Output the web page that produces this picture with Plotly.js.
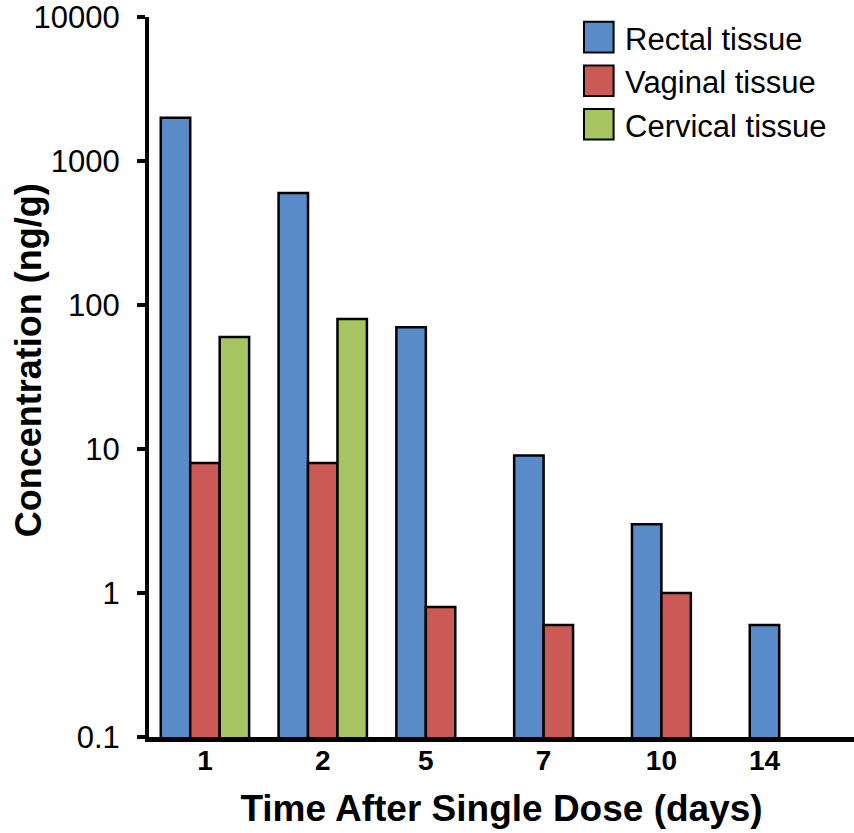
<!DOCTYPE html>
<html>
<head>
<meta charset="utf-8">
<script src="https://cdn.plot.ly/plotly-3.0.1.min.js"></script>
<style>html,body{margin:0;padding:0;background:#fff;}#chart{width:854px;height:833px;}</style>
</head>
<body>
<div id="chart"></div>
<script>
// ---- data ----
const days = ['1', '2', '5', '7', '10', '14'];
const rectal = [2000, 600, 70, 9, 3, 0.6];
const vaginal = [8, 8, 0.8, 0.6, 1, null];
const cervical = [60, 80, null, null, null, null];
const seriesNames = ['Rectal tissue', 'Vaginal tissue', 'Cervical tissue'];
const seriesColors = ['#588BC8', '#CB5A57', '#A6C462'];
const yTickVals = [0.1, 1, 10, 100, 1000, 10000];
const yTickText = ['0.1', '1', '10', '100', '1000', '10000'];
const xTitle = 'Time After Single Dose (days)';
const yTitle = 'Concentration (ng/g)';

// ---- build ----
const FONT = 'Liberation Sans, Arial, sans-serif';
const bargap = 0.25;
const series = [rectal, vaginal, cervical];
const nS = series.length;
const slotW = (1 - bargap) / nS;
const xIdx = days.map((d, i) => i);

// tick label centred under the bars that are present in each group
const tickPos = days.map((d, i) => {
  const offs = [];
  series.forEach((s, k) => { if (s[i] !== null) offs.push((k - (nS - 1) / 2) * slotW); });
  return i + offs.reduce((a, b) => a + b, 0) / offs.length;
});

const traces = series.map((s, k) => ({
  type: 'bar',
  name: seriesNames[k],
  x: xIdx,
  y: s,
  marker: { color: seriesColors[k], line: { color: '#000', width: 2.5 } },
  showlegend: false,
  hoverinfo: 'name+y'
}));

// custom legend (large square swatches)
const shapes = [];
const annotations = [];
seriesNames.forEach((n, k) => {
  const yc = 0.972 - k * 0.0605;
  shapes.push({
    type: 'rect', xref: 'paper', yref: 'paper',
    x0: 0.617, x1: 0.659, y0: yc - 0.0213, y1: yc + 0.0213,
    fillcolor: seriesColors[k], line: { color: '#000', width: 2 }
  });
  annotations.push({
    xref: 'paper', yref: 'paper', x: 0.672, y: yc - 0.003,
    xanchor: 'left', yanchor: 'middle', showarrow: false,
    text: n, font: { family: FONT, size: 31, weight: 'normal', color: '#000' }
  });
});

// y-axis title placed as rotated text left of the tick labels
annotations.push({
  xref: 'paper', yref: 'paper', x: -0.171, y: 0.524,
  xanchor: 'center', yanchor: 'middle', showarrow: false, textangle: -90,
  text: yTitle, font: { family: FONT, size: 36, weight: 'bold', color: '#000' }
});

const layout = {
  width: 854, height: 833,
  margin: { l: 149, r: 0, t: 17, b: 96 },
  paper_bgcolor: '#fff', plot_bgcolor: '#fff',
  barmode: 'group', bargap: bargap, bargroupgap: 0,
  font: { family: FONT, color: '#000', weight: 'normal' },
  showlegend: false,
  xaxis: {
    type: 'linear', range: [-0.475, 5.51],
    tickvals: tickPos, ticktext: days,
    ticks: '', showgrid: false, zeroline: false,
    showline: true, linecolor: '#000', linewidth: 5,
    tickfont: { family: FONT, size: 28, weight: 'bold', color: '#000' },
    ticklabelstandoff: -6,
    title: { text: xTitle, font: { family: FONT, size: 37, weight: 'bold', color: '#000' }, standoff: 22 }
  },
  yaxis: {
    type: 'log', range: [-1, 4],
    tickvals: yTickVals, ticktext: yTickText,
    ticks: 'outside', ticklen: 8, tickwidth: 4, tickcolor: '#000',
    showgrid: false, zeroline: false,
    showline: true, linecolor: '#000', linewidth: 4,
    tickfont: { family: FONT, size: 31, weight: 'normal', color: '#000' },
    ticklabelstandoff: 11,
    ticklabeloverflow: 'allow'
  },
  shapes: shapes,
  annotations: annotations
};

Plotly.newPlot('chart', traces, layout, { displayModeBar: false, staticPlot: true });
</script>
</body>
</html>
